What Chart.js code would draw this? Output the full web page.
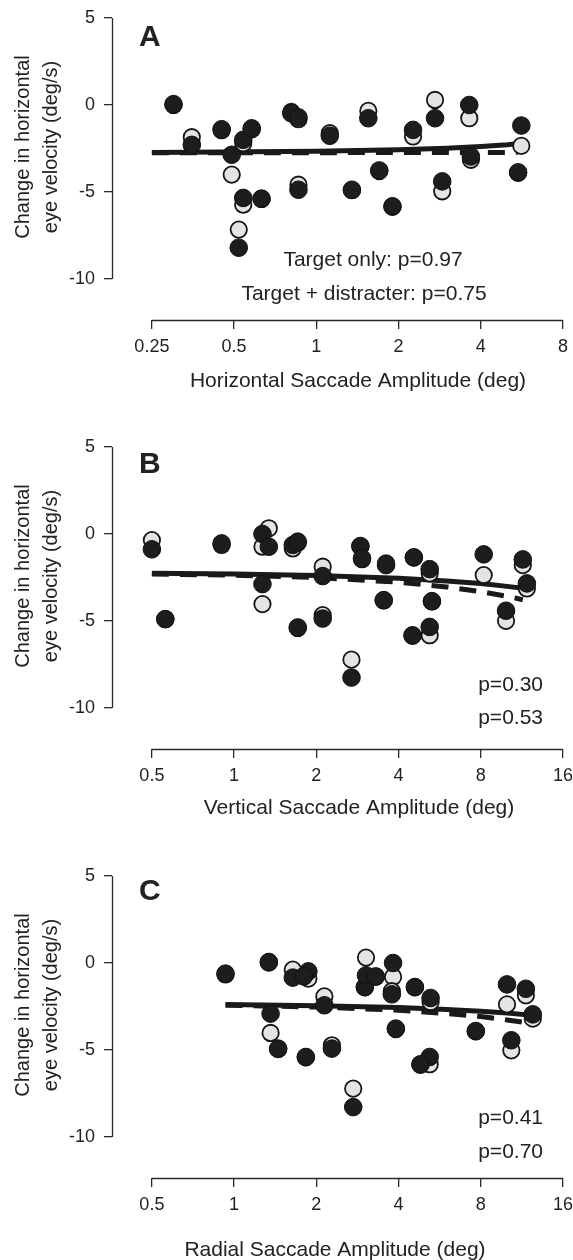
<!DOCTYPE html>
<html><head><meta charset="utf-8">
<script src="https://cdn.jsdelivr.net/npm/chart.js@4.4.1/dist/chart.umd.min.js"></script>
<style>
html,body{margin:0;padding:0;background:#fff;width:573px;height:1260px;overflow:hidden;position:relative}
canvas{position:absolute;left:0}
</style></head><body>
<canvas id="cA" width="573" height="429" style="top:0px;width:573px;height:429px"></canvas>
<canvas id="cB" width="573" height="429" style="top:429px;width:573px;height:429px"></canvas>
<canvas id="cC" width="573" height="402" style="top:858px;width:573px;height:402px"></canvas>
<script>
// ---------- tick labels ----------
const xTicksA = [0.25, 0.5, 1, 2, 4, 8];
const xTicksBC = [0.5, 1, 2, 4, 8, 16];
const yTicks = [5, 0, -5, -10];

// ---------- Panel A: horizontal saccade amplitude ----------
const ampA = [0.30,0.35,0.45,0.49,0.54,0.58,0.54,0.63,0.52,0.81,0.86,0.86,1.12,1.35,1.55,1.70,1.90,2.26,2.72,2.89,3.63,3.68,5.63,5.48];
const targetOnlyA = [0.05,-2.29,-1.39,-2.86,-2.00,-1.34,-5.34,-5.38,-8.20,-0.48,-0.71,-4.87,-1.77,-4.87,-0.76,-3.76,-5.82,-1.43,-0.76,-4.39,0.00,-2.96,-1.18,-3.87];
const targetDistA = [0.00,-1.85,-1.45,-4.00,-2.20,-1.40,-5.73,-5.40,-7.16,-0.40,-0.82,-4.58,-1.62,-4.90,-0.34,-3.80,-5.85,-1.81,0.29,-4.96,-0.76,-3.15,-2.35,-3.90];
const fitXA = [0.25, 1, 2, 3, 4, 5, 5.68];
const fitOnlyA = [-2.73,-2.66,-2.57,-2.48,-2.39,-2.29,-2.20];
const fitDistXA = [0.25, 1, 2, 3, 4, 5.48];
const fitDistA = [-2.74,-2.74,-2.73,-2.73,-2.73,-2.72];

// ---------- Panel B: vertical saccade amplitude ----------
const ampB = [0.50,0.56,0.90,1.27,1.34,1.27,1.64,1.71,1.71,2.11,2.11,2.69,2.90,2.94,3.60,3.53,4.55,4.50,5.20,5.30,5.20,8.20,9.90,11.4,11.8];
const targetOnlyB = [-0.88,-4.89,-0.54,0.00,-0.73,-2.88,-0.63,-0.44,-5.37,-2.42,-4.86,-8.25,-0.69,-1.40,-1.79,-3.80,-1.34,-5.82,-2.02,-3.86,-5.34,-1.17,-4.41,-1.46,-2.84];
const targetDistB = [-0.35,-4.90,-0.63,-0.73,0.33,-4.03,-0.83,-0.50,-5.40,-1.88,-4.66,-7.22,-0.72,-1.45,-1.69,-3.82,-1.36,-5.85,-2.26,-3.88,-5.82,-2.36,-4.99,-1.79,-3.13];
const fitXB = [0.5, 1, 2, 4, 6, 8, 10, 11.8];
const fitOnlyB = [-2.26,-2.30,-2.38,-2.54,-2.70,-2.85,-3.01,-3.15];
const fitDistXB = [0.5, 1, 2, 4, 6, 8, 10, 11.4];
const fitDistB = [-2.30,-2.37,-2.50,-2.77,-3.04,-3.31,-3.58,-3.78];

// ---------- Panel C: radial saccade amplitude ----------
const ampC = [0.93,1.34,1.36,1.45,1.64,1.87,1.80,1.83,2.14,2.28,2.73,3.01,3.04,3.30,3.82,3.78,3.91,4.59,5.24,5.20,4.81,7.67,9.98,10.35,11.7,12.4];
const targetOnlyC = [-0.61,0.06,-2.91,-4.92,-0.84,-0.48,-0.75,-5.40,-2.43,-4.92,-8.28,-1.38,-0.71,-0.77,0.00,-1.80,-3.77,-1.38,-2.01,-5.40,-5.82,-3.91,-1.23,-4.44,-1.48,-2.95];
const targetDistC = [-0.66,0.02,-4.02,-4.95,-0.38,-0.90,-0.78,-5.42,-1.92,-4.73,-7.22,-1.40,0.31,-0.80,-0.80,-1.62,-3.80,-1.40,-2.24,-5.82,-5.85,-3.93,-2.38,-5.02,-1.86,-3.20];
const fitXC = [0.93, 2, 4, 6, 8, 10, 12.4];
const fitOnlyC = [-2.39,-2.45,-2.56,-2.67,-2.77,-2.88,-3.01];
const fitDistXC = [0.93, 2, 4, 6, 8, 10, 12];
const fitDistC = [-2.43,-2.53,-2.71,-2.90,-3.08,-3.27,-3.45];

const FONT = "'Liberation Sans', Arial, Helvetica, sans-serif";
const TXT = '#222';
const AX = '#2a2a2a';

function pts(xs, ys) { return xs.map((x, i) => ({x: x, y: ys[i]})); }

const decor = {
  id: 'decor',
  afterDraw(chart, args, o) {
    const ctx = chart.ctx, xs = chart.scales.x, ys = chart.scales.y;
    const xt = xs.ticks.map(t => t.value), yt = ys.ticks.map(t => t.value);
    ctx.save();
    ctx.strokeStyle = AX; ctx.lineWidth = 1.3;
    ctx.beginPath();
    const ax = Math.round(ys.right) + 0.5;
    ctx.moveTo(ax, ys.getPixelForValue(Math.max(...yt)));
    ctx.lineTo(ax, ys.getPixelForValue(Math.min(...yt)));
    const ay = Math.round(xs.top) + 0.5;
    ctx.moveTo(xs.getPixelForValue(Math.min(...xt)), ay);
    ctx.lineTo(xs.getPixelForValue(Math.max(...xt)), ay);
    ctx.stroke();
    ctx.fillStyle = TXT;
    // panel letter
    ctx.font = 'bold 30px ' + FONT;
    ctx.textAlign = 'left'; ctx.textBaseline = 'alphabetic';
    ctx.fillText(o.letter, 139, o.letterY);
    // p-value notes
    ctx.font = '21px ' + FONT;
    o.notes.forEach(n => { ctx.textAlign = n.align; ctx.fillText(n.text, n.x, n.y); });
    // x title
    ctx.textAlign = 'center';
    ctx.fillText(o.xTitle, o.xTitleX, o.xTitleY);
    // y title (two lines, rotated)
    ctx.font = '20px ' + FONT;
    o.yTitle.forEach((line, i) => {
      ctx.save();
      ctx.translate(o.yTitleX[i], o.yTitleCY);
      ctx.rotate(-Math.PI / 2);
      ctx.textAlign = 'center'; ctx.textBaseline = 'alphabetic';
      ctx.fillText(line, 0, 0);
      ctx.restore();
    });
    ctx.restore();
  }
};

function makeChart(id, H, xMin, xMax, xTicks, amp, only, dist, fx1, fy1, fx2, fy2, deco) {
  const tickVals = xTicks;
  return new Chart(document.getElementById(id), {
    type: 'scatter',
    data: {
      datasets: [
        { label: 'Target only fit', data: pts(fx1, fy1), showLine: true, borderColor: '#1a1a1a', borderWidth: 5, pointRadius: 0, borderCapStyle: 'butt', order: 4, clip: false },
        { label: 'Target + distracter fit', data: pts(fx2, fy2), showLine: true, borderColor: '#1a1a1a', borderWidth: 5, borderDash: [17, 11], pointRadius: 0, borderCapStyle: 'butt', order: 3, clip: false },
        { label: 'Target + distracter', data: pts(amp, dist), backgroundColor: '#e2e4e7', borderColor: '#151515', borderWidth: 1.8, pointRadius: 8.2, order: 2, clip: false },
        { label: 'Target only', data: pts(amp, only), backgroundColor: '#1d1d1d', borderColor: '#111', borderWidth: 1, pointRadius: 8.8, order: 1, clip: false }
      ]
    },
    options: {
      responsive: false, animation: false, devicePixelRatio: 1,
      layout: { padding: { left: 0, right: 9, top: 18, bottom: 0 } },
      plugins: { legend: { display: false }, tooltip: { enabled: false }, decor: deco },
      scales: {
        x: {
          type: 'logarithmic', position: 'bottom', min: xMin, max: xMax,
          afterBuildTicks: s => { s.ticks = tickVals.map(v => ({ value: v })); },
          afterFit: s => { s.height = H - 320; s.paddingLeft = 0; s.paddingRight = 0; },
          ticks: { callback: v => String(v), color: TXT, font: { family: FONT, size: 18 }, padding: 7, maxRotation: 0, autoSkip: false },
          grid: { drawOnChartArea: false, drawTicks: true, tickLength: 9, color: AX, lineWidth: 1.3 },
          border: { display: false }
        },
        y: {
          type: 'linear', position: 'left', min: -12.356, max: 5,
          afterBuildTicks: s => { s.ticks = yTicks.map(v => ({ value: v })); },
          afterFit: s => { s.width = 112; s.paddingTop = 0; s.paddingBottom = 0; },
          ticks: { callback: v => String(v), color: TXT, font: { family: FONT, size: 18 }, padding: 9, autoSkip: false },
          grid: { drawOnChartArea: false, drawTicks: true, tickLength: 8, color: AX, lineWidth: 1.3 },
          border: { display: false }
        }
      }
    },
    plugins: [decor]
  });
}

const yTitle = ['Change in horizontal', 'eye velocity (deg/s)'];
// octave width 82.46 px, y-axis 40 px left of first tick
const padOct = Math.pow(2, 40 / 82.46);

makeChart('cA', 429, 0.25 / padOct, 8, xTicksA, ampA, targetOnlyA, targetDistA, fitXA, fitOnlyA, fitDistXA, fitDistA, {
  letter: 'A', letterY: 46,
  notes: [ { text: 'Target only: p=0.97', x: 373, y: 266, align: 'center' },
           { text: 'Target + distracter: p=0.75', x: 364, y: 300, align: 'center' } ],
  xTitle: 'Horizontal Saccade Amplitude (deg)', xTitleX: 358, xTitleY: 387,
  yTitle: yTitle, yTitleX: [29, 57], yTitleCY: 147
});
makeChart('cB', 429, 0.5 / padOct, 16, xTicksBC, ampB, targetOnlyB, targetDistB, fitXB, fitOnlyB, fitDistXB, fitDistB, {
  letter: 'B', letterY: 44,
  notes: [ { text: 'p=0.30', x: 543, y: 262, align: 'right' },
           { text: 'p=0.53', x: 543, y: 295, align: 'right' } ],
  xTitle: 'Vertical Saccade Amplitude (deg)', xTitleX: 359, xTitleY: 385,
  yTitle: yTitle, yTitleX: [29, 57], yTitleCY: 147
});
makeChart('cC', 402, 0.5 / padOct, 16, xTicksBC, ampC, targetOnlyC, targetDistC, fitXC, fitOnlyC, fitDistXC, fitDistC, {
  letter: 'C', letterY: 42,
  notes: [ { text: 'p=0.41', x: 543, y: 266, align: 'right' },
           { text: 'p=0.70', x: 543, y: 300, align: 'right' } ],
  xTitle: 'Radial Saccade Amplitude (deg)', xTitleX: 335, xTitleY: 398,
  yTitle: yTitle, yTitleX: [29, 57], yTitleCY: 147
});
</script>
</body></html>
